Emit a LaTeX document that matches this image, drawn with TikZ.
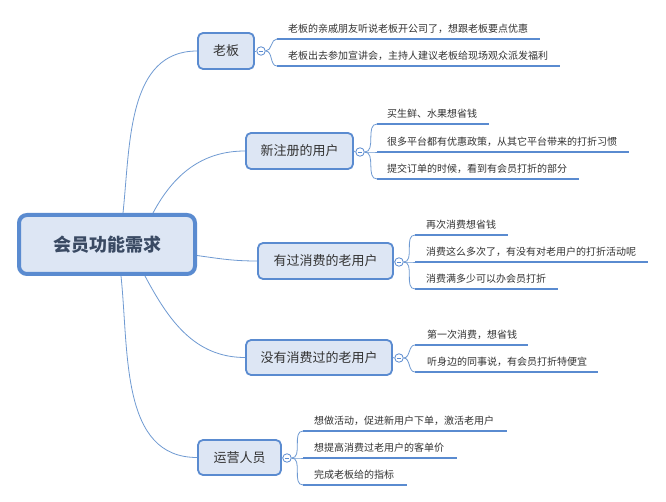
\documentclass[tikz,border=0pt]{standalone}
\usepackage{fontspec}
\newfontfamily\cjk{Noto Sans CJK SC}
\definecolor{boxfill}{HTML}{DDE6F4}
\definecolor{boxline}{HTML}{5A8BD0}
\definecolor{conn}{HTML}{6F9AD2}
\definecolor{ultext}{HTML}{333333}
\definecolor{roottext}{HTML}{3A4A63}
\tikzset{
  rootbox/.style={draw=boxline, fill=boxfill, line width=4pt, rounded corners=8pt,
    minimum width=176pt, minimum height=59pt, inner sep=0pt,
    font=\cjk\fontsize{18pt}{20pt}\selectfont\bfseries, text=roottext},
  branchbox/.style={draw=boxline, fill=boxfill, line width=1.8pt, rounded corners=5pt,
    inner sep=0pt, font=\cjk\fontsize{13pt}{15pt}\selectfont, text=ultext},
  foldmark/.style={circle, draw=boxline, fill=white, line width=0.8pt, minimum size=8.5pt, inner sep=0pt},
  leaftext/.style={anchor=west, inner sep=0pt, font=\cjk\fontsize{10pt}{12pt}\selectfont, text=ultext},
  ulline/.style={draw=boxline, line width=2.6pt},
  conline/.style={draw=conn, line width=0.8pt},
}
\newcommand{\foldsign}[1]{\draw[boxline, line width=0.7pt] ([xshift=-2.2pt]#1.center) -- ([xshift=2.2pt]#1.center);}
\begin{document}
\begin{tikzpicture}[x=1pt,y=-1pt]
\useasboundingbox[fill=white] (0,0) rectangle (666,502);

% root
\node[rootbox] (root) at (107,244.5) {会员功能需求};

% branches
\node[branchbox, minimum width=56pt, minimum height=36pt] (b1) at (226,51) {老板};
\node[branchbox, minimum width=107pt, minimum height=36pt] (b2) at (299.5,151) {新注册的用户};
\node[branchbox, minimum width=135pt, minimum height=36pt] (b3) at (325.5,261) {有过消费的老用户};
\node[branchbox, minimum width=146pt, minimum height=35pt] (b4) at (319,357.5) {没有消费过的老用户};
\node[branchbox, minimum width=83pt, minimum height=35pt] (b5) at (239.5,457.5) {运营人员};

% root connectors
\draw[conline] ([xshift=16pt]root.north) to[out=84,in=180] (b1.west);
\draw[conline] ([xshift=46pt]root.north) to[out=62,in=180] (b2.west);
\draw[conline] ([yshift=-11pt]root.east) to[out=-8,in=180] (b3.west);
\draw[conline] ([xshift=38pt]root.south) to[out=-62,in=180] (b4.west);
\draw[conline] ([xshift=14pt]root.south) to[out=-84,in=180] (b5.west);

% fold marks
\node[foldmark] (f1) at (261,51) {};
\node[foldmark] (f2) at (360,152) {};
\node[foldmark] (f3) at (399,262) {};
\node[foldmark] (f4) at (399,358) {};
\node[foldmark] (f5) at (287,458) {};
\draw[conline] (b1.east) -- (f1.west);
\draw[conline] (b2.east) -- (f2.west);
\draw[conline] (b3.east) -- (f3.west);
\draw[conline] (b4.east) -- (f4.west);
\draw[conline] (b5.east) -- (f5.west);

% leaf coordinates (underline start / end)
\coordinate (l11) at (277,39);  \coordinate (e11) at (540,39);
\coordinate (l12) at (277,66);  \coordinate (e12) at (560,66);
\coordinate (l21) at (377,124); \coordinate (e21) at (489,124);
\coordinate (l22) at (377,152); \coordinate (e22) at (629,152);
\coordinate (l23) at (377,179); \coordinate (e23) at (579,179);
\coordinate (l31) at (415,235); \coordinate (e31) at (508,235);
\coordinate (l32) at (415,262); \coordinate (e32) at (648,262);
\coordinate (l33) at (415,289); \coordinate (e33) at (558,289);
\coordinate (l41) at (415,345); \coordinate (e41) at (528,345);
\coordinate (l42) at (415,372); \coordinate (e42) at (598,372);
\coordinate (l51) at (303,431); \coordinate (e51) at (507,431);
\coordinate (l52) at (303,458); \coordinate (e52) at (457,458);
\coordinate (l53) at (303,485); \coordinate (e53) at (407,485);

% fold to leaf connectors
\foreach \f/\l in {f1/l11,f1/l12,f2/l21,f2/l22,f2/l23,f3/l31,f3/l32,f3/l33,f4/l41,f4/l42,f5/l51,f5/l52,f5/l53}
  \draw[conline] (\f.east) to[out=0,in=180] (\l);

% underlines
\foreach \l/\e in {l11/e11,l12/e12,l21/e21,l22/e22,l23/e23,l31/e31,l32/e32,l33/e33,l41/e41,l42/e42,l51/e51,l52/e52,l53/e53}
  \draw[ulline] (\l) -- (\e);

\foreach \f in {f1,f2,f3,f4,f5} {\foldsign{\f}}

% leaf texts
\node[leaftext] (t11) at ([shift={(11,-10)}]l11) {老板的亲戚朋友听说老板开公司了，想跟老板要点优惠};
\node[leaftext] (t12) at ([shift={(11,-10)}]l12) {老板出去参加宣讲会，主持人建议老板给现场观众派发福利};
\node[leaftext] (t21) at ([shift={(10,-10)}]l21) {买生鲜、水果想省钱};
\node[leaftext] (t22) at ([shift={(10,-10)}]l22) {很多平台都有优惠政策，从其它平台带来的打折习惯};
\node[leaftext] (t23) at ([shift={(10,-10)}]l23) {提交订单的时候，看到有会员打折的部分};
\node[leaftext] (t31) at ([shift={(11,-10)}]l31) {再次消费想省钱};
\node[leaftext] (t32) at ([shift={(11,-10)}]l32) {消费这么多次了，有没有对老用户的打折活动呢};
\node[leaftext] (t33) at ([shift={(11,-10)}]l33) {消费满多少可以办会员打折};
\node[leaftext] (t41) at ([shift={(12,-10)}]l41) {第一次消费，想省钱};
\node[leaftext] (t42) at ([shift={(12,-10)}]l42) {听身边的同事说，有会员打折特便宜};
\node[leaftext] (t51) at ([shift={(11,-10)}]l51) {想做活动，促进新用户下单，激活老用户};
\node[leaftext] (t52) at ([shift={(11,-10)}]l52) {想提高消费过老用户的客单价};
\node[leaftext] (t53) at ([shift={(11,-10)}]l53) {完成老板给的指标};
\end{tikzpicture}
\end{document}
